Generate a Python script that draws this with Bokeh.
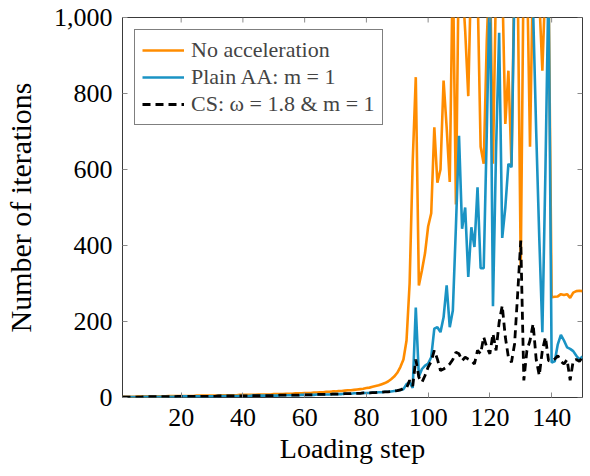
from bokeh.plotting import figure
from bokeh.models import (Range1d, FixedTicker, Legend, LegendItem,
                          NumeralTickFormatter, ColumnDataSource)
from bokeh.embed import file_html
from bokeh.resources import INLINE

steps = list(range(1, 151))

no_acc = [
    2, 2, 2, 2, 2, 3, 3, 3, 3, 3,
    3, 3, 3, 3, 3, 4, 4, 4, 4, 4,
    4, 4, 4, 4, 5, 5, 5, 5, 5, 5,
    5, 5, 6, 6, 6, 6, 6, 6, 7, 7,
    7, 7, 7, 7, 8, 8, 8, 8, 8, 9,
    9, 9, 9, 10, 10, 10, 11, 11, 11, 12,
    12, 12, 13, 13, 14, 14, 15, 15, 16, 16,
    17, 17, 18, 19, 19, 20, 21, 22, 23, 25,
    26, 28, 30, 32, 35, 38, 42, 48, 55, 65,
    80, 100, 150, 300, 620, 843, 295, 335, 380, 450,
    485, 711, 565, 600, 834, 711, 567, 1150, 508, 1200,
    1100, 965, 793, 1150, 1100, 1080, 660, 615, 940, 1150,
    615, 1100, 1200, 1100, 720, 860, 610, 1150, 1100, 343,
    1200, 1150, 660, 1150, 1100, 1050, 860, 1100, 1100, 264,
    265, 266, 272, 270, 272, 262, 276, 280, 281, 280,
]

plain_aa = [
    1, 1, 1, 1, 1, 1, 1, 2, 2, 2,
    2, 2, 2, 2, 2, 2, 2, 2, 3, 3,
    3, 3, 3, 3, 3, 3, 3, 3, 3, 3,
    3, 4, 4, 4, 4, 4, 4, 4, 4, 4,
    4, 4, 5, 5, 5, 5, 5, 5, 5, 5,
    5, 6, 6, 6, 6, 6, 6, 6, 7, 7,
    7, 7, 7, 8, 8, 8, 8, 8, 9, 9,
    9, 9, 10, 10, 10, 11, 11, 11, 12, 12,
    12, 13, 13, 14, 14, 15, 15, 16, 17, 18,
    20, 22, 35, 40, 25, 237, 55, 75, 84, 89,
    106, 181, 185, 172, 211, 295, 185, 229, 450, 689,
    444, 500, 317, 448, 396, 553, 340, 340, 700, 1100,
    240, 650, 960, 420, 500, 615, 606, 1100, 1150, 1200,
    1100, 1100, 1050, 1020, 700, 420, 172, 600, 1100, 92,
    95, 140, 165, 150, 132, 128, 122, 110, 100, 108,
]

cs = [
    1, 1, 1, 1, 1, 1, 1, 2, 2, 2,
    2, 2, 2, 2, 2, 2, 2, 2, 3, 3,
    3, 3, 3, 3, 3, 3, 3, 3, 3, 3,
    3, 4, 4, 4, 4, 4, 4, 4, 4, 4,
    4, 4, 5, 5, 5, 5, 5, 5, 5, 5,
    5, 6, 6, 6, 6, 6, 6, 6, 7, 7,
    7, 7, 7, 8, 8, 8, 8, 8, 9, 9,
    9, 9, 10, 10, 10, 11, 11, 11, 12, 12,
    12, 13, 13, 14, 14, 15, 15, 16, 17, 18,
    20, 24, 25, 45, 30, 100, 53, 40, 58, 80,
    95, 124, 101, 71, 75, 80, 88, 100, 119, 115,
    97, 106, 101, 97, 88, 124, 115, 159, 132, 115,
    168, 124, 198, 242, 159, 106, 93, 141, 273, 413,
    45, 124, 150, 194, 100, 58, 124, 159, 97, 95,
    101, 110, 95, 88, 100, 45, 97, 100, 95, 106,
]

x_ticks = [20, 40, 60, 80, 100, 120, 140]
y_ticks = [0, 200, 400, 600, 800, 1000]
labels = ["No acceleration", "Plain AA: m = 1", "CS: \u03c9 = 1.8 & m = 1"]

FONT = "Liberation Serif"
X_MIN, X_MAX, Y_MIN, Y_MAX = 1, 150, 0, 1000

src = ColumnDataSource(dict(x=steps, a=no_acc, b=plain_aa, c=cs))

p = figure(width=590, height=476, output_backend="svg", toolbar_location=None,
           x_range=Range1d(X_MIN, X_MAX), y_range=Range1d(Y_MIN, Y_MAX),
           min_border_left=122, min_border_right=8, min_border_top=17,
           min_border_bottom=79)
p.background_fill_color = "white"
p.border_fill_color = "white"
p.outline_line_color = "#3a3a3a"
p.outline_line_width = 1
p.xgrid.visible = False
p.ygrid.visible = False

r1 = p.line("x", "a", source=src, line_color="#ff8c00", line_width=2.6)
r2 = p.line("x", "b", source=src, line_color="#1a93c4", line_width=2.6)
r3 = p.line("x", "c", source=src, line_color="black", line_width=2.8, line_dash="8 5")

# mirrored tick marks on the top and right frame edges (pgfplots style)
tick_len_x = (Y_MAX - Y_MIN) * 5 / 380
tick_len_y = (X_MAX - X_MIN) * 5 / 460
p.segment(x0=x_ticks, y0=[Y_MAX] * len(x_ticks), x1=x_ticks,
          y1=[Y_MAX - tick_len_x] * len(x_ticks), line_color="#8a8a8a", line_width=1)
p.segment(x0=[X_MAX] * len(y_ticks), y0=y_ticks, x1=[X_MAX - tick_len_y] * len(y_ticks),
          y1=y_ticks, line_color="#8a8a8a", line_width=1)

p.axis.axis_line_color = None
p.axis.major_tick_in = 5
p.axis.major_tick_out = 0
p.axis.major_tick_line_color = "#8a8a8a"
p.axis.minor_tick_line_color = None
p.axis.major_label_text_font = FONT
p.axis.major_label_text_font_size = "26px"
p.axis.major_label_text_color = "black"
p.axis.axis_label_text_font = FONT
p.axis.axis_label_text_font_style = "normal"
p.axis.axis_label_text_color = "black"
p.xaxis.axis_label_text_font_size = "28px"
p.yaxis.axis_label_text_font_size = "30px"

p.xaxis.ticker = FixedTicker(ticks=x_ticks)
p.yaxis.ticker = FixedTicker(ticks=y_ticks)
p.yaxis.formatter = NumeralTickFormatter(format="0,0")
p.xaxis.axis_label = "Loading step"
p.yaxis.axis_label = "Number of iterations"
p.xaxis.major_label_standoff = 11
p.yaxis.major_label_standoff = 10
p.xaxis.axis_label_standoff = 4
p.yaxis.axis_label_standoff = 14

legend = Legend(items=[LegendItem(label=labels[0], renderers=[r1]),
                       LegendItem(label=labels[1], renderers=[r2]),
                       LegendItem(label=labels[2], renderers=[r3])],
                location="top_left")
legend.margin = 12
legend.padding = 7
legend.spacing = 1
legend.glyph_width = 42
legend.glyph_height = 20
legend.label_height = 20
legend.label_standoff = 7
legend.label_text_font = FONT
legend.label_text_font_size = "22px"
legend.border_line_color = "black"
legend.border_line_width = 1
legend.background_fill_alpha = 1
p.add_layout(legend, "center")

open("out.html", "w").write(file_html(p, INLINE))
